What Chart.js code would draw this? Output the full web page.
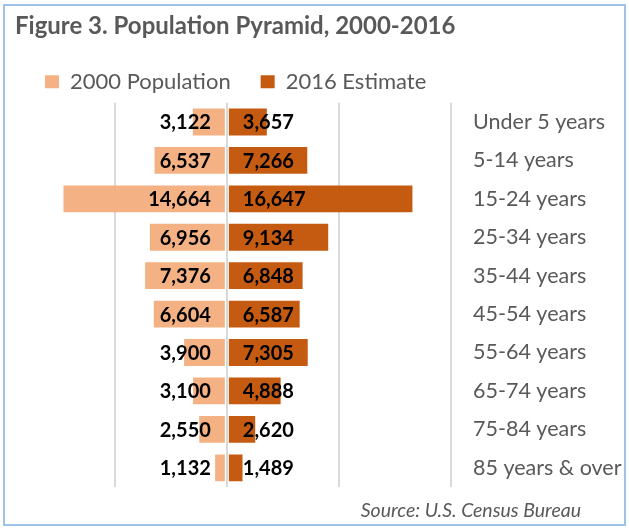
<!DOCTYPE html>
<html>
<head>
<meta charset="utf-8">
<script src="https://cdn.jsdelivr.net/npm/chart.js@4"></script>
<style>
  html, body { margin: 0; padding: 0; background: #fff; }
  #wrap { width: 629px; height: 529px; }
</style>
</head>
<body>
<div id="wrap"><canvas id="chart" width="629" height="529"></canvas></div>
<script>
const categories = [
  "Under 5 years",
  "5-14 years",
  "15-24 years",
  "25-34 years",
  "35-44 years",
  "45-54 years",
  "55-64 years",
  "65-74 years",
  "75-84 years",
  "85 years & over",
];
const pop2000 = [3122, 6537, 14664, 6956, 7376, 6604, 3900, 3100, 2550, 1132];
const est2016 = [3657, 7266, 16647, 9134, 6848, 6587, 7305, 4888, 2620, 1489];
const gridValues = [-10000, 0, 10000, 20000];
const sourceNote = "Source: U.S. Census Bureau";

const FONT = "Lato";
const GREY = "#595959";

// frame round the whole figure + source note
const framePlugin = {
  id: "frame",
  beforeDraw(chart) {
    const ctx = chart.ctx;
    ctx.save();
    ctx.fillStyle = "#fff";
    ctx.fillRect(0, 0, chart.width, chart.height);
    ctx.strokeStyle = "#9DC3E6";
    ctx.lineWidth = 2;
    ctx.strokeRect(4, 5, chart.width - 8, chart.height - 9);
    ctx.restore();
  },
  afterDraw(chart) {
    const ctx = chart.ctx;
    ctx.save();
    ctx.font = "italic 19.5px " + FONT;
    ctx.fillStyle = GREY;
    ctx.textAlign = "right";
    ctx.textBaseline = "middle";
    ctx.fillText(sourceNote, 581, 511);
    ctx.restore();
  },
};

// value labels next to the centre line
const valueLabels = {
  id: "valueLabels",
  afterDatasetsDraw(chart) {
    const ctx = chart.ctx;
    const x0 = chart.scales.x.getPixelForValue(0);
    ctx.save();
    ctx.font = "bold 20px " + FONT;
    ctx.fillStyle = "#000";
    ctx.textBaseline = "middle";
    chart.data.datasets.forEach((ds, i) => {
      const values = i === 0 ? pop2000 : est2016;
      chart.getDatasetMeta(i).data.forEach((bar, j) => {
        const txt = values[j].toLocaleString("en-US");
        if (i === 0) {
          ctx.textAlign = "right";
          ctx.fillText(txt, x0 - 16, bar.y + 1);
        } else {
          ctx.textAlign = "left";
          ctx.fillText(txt, x0 + 16, bar.y + 1);
        }
      });
    });
    ctx.restore();
  },
};

const ctx = document.getElementById("chart").getContext("2d");
new Chart(ctx, {
  type: "bar",
  data: {
    labels: categories,
    datasets: [
      {
        label: "2000 Population",
        data: pop2000.map((v) => -v),
        backgroundColor: "#F4B183",
        borderColor: "rgba(255,255,255,0)",
        borderWidth: 1,
        borderSkipped: false,
      },
      {
        label: "2016 Estimate",
        data: est2016,
        backgroundColor: "#C55A11",
        borderColor: "rgba(255,255,255,0)",
        borderWidth: 1,
        borderSkipped: false,
      },
    ],
  },
  options: {
    indexAxis: "y",
    responsive: false,
    animation: false,
    layout: { padding: { left: 15, right: 0, top: 4, bottom: 42 } },
    categoryPercentage: 1,
    barPercentage: 0.75,
    plugins: {
      title: {
        display: true,
        text: "Figure 3. Population Pyramid, 2000-2016",
        align: "start",
        color: GREY,
        font: { family: FONT, size: 24, weight: "bold" },
        padding: { top: 8, bottom: 0 },
      },
      legend: {
        display: true,
        position: "top",
        align: "start",
        labels: {
          boxWidth: 14,
          boxHeight: 13,
          padding: 30,
          color: GREY,
          font: { family: FONT, size: 22 },
        },
      },
      tooltip: { enabled: false },
    },
    scales: {
      x: {
        stacked: true,
        min: -18900,
        max: 20000,
        afterBuildTicks: (scale) => {
          scale.ticks = gridValues.map((v) => ({ value: v }));
        },
        ticks: { display: false },
        grid: { color: "#D9D9D9", lineWidth: 2, drawTicks: false },
        border: { display: false },
      },
      y: {
        stacked: true,
        position: "right",
        afterFit: (scale) => {
          scale.width = 178;
        },
        ticks: {
          color: GREY,
          padding: 22,
          crossAlign: "near",
          font: { family: FONT, size: 21.5 },
        },
        grid: { display: false, drawTicks: false },
        border: { display: false },
      },
    },
  },
  plugins: [framePlugin, valueLabels],
});
</script>
</body>
</html>
